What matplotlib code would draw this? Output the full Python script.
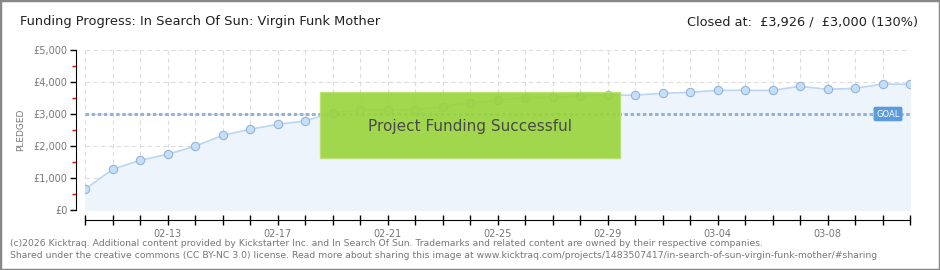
import matplotlib
matplotlib.use("Agg")
import matplotlib.pyplot as plt
from matplotlib.patches import Rectangle
import numpy as np

dates = ["02-10","02-11","02-12","02-13","02-14","02-15","02-16","02-17","02-18","02-19",
         "02-20","02-21","02-22","02-23","02-24","02-25","02-26","02-27","02-28","02-29",
         "03-01","03-02","03-03","03-04","03-05","03-06","03-07","03-08","03-09","03-10","03-11"]
pledged = [646, 1271, 1552, 1740, 1990, 2333, 2521, 2677, 2781, 3042,
           3125, 3125, 3125, 3229, 3344, 3437, 3510, 3531, 3562, 3590,
           3590, 3646, 3677, 3740, 3740, 3740, 3865, 3771, 3802, 3937, 3926]
goal = 3000
yticks = [0, 1000, 2000, 3000, 4000, 5000]
ytick_labels = ["£0", "£1,000", "£2,000", "£3,000", "£4,000", "£5,000"]
label_every = 4
label_start = 3

W, H = 940, 270
fig = plt.figure(figsize=(W/100, H/100), dpi=100)
fig.patch.set_facecolor("white")

ax = fig.add_axes([85/W, (H-210)/H, (910-85)/W, 160/H])
x = np.arange(len(pledged))
ax.set_xlim(0, len(pledged)-1)
ax.set_ylim(0, 5000)

ax.fill_between(x, pledged, 0, color="#eef4fc", zorder=1)
ax.plot(x, pledged, color="#b9d6f2", lw=1.2, zorder=3)
ax.plot(x, pledged, "o", ms=6, mfc="#c6def7", mec="#93b5d8", mew=0.8, zorder=4)
ax.plot(x, [goal]*len(x), ls=(0, (1.2, 0.9)), color="#8fb2d8", lw=2.1, zorder=2)

ax.grid(True, color="#dddddd", ls=(0, (4, 3)), lw=0.8)
ax.set_axisbelow(True)

for s in ["top", "right"]:
    ax.spines[s].set_visible(False)
ax.spines["left"].set_position(("outward", 6.5))
ax.spines["bottom"].set_position(("outward", 7.2))
ax.spines["left"].set_bounds(0, 5000)

ax.set_yticks(yticks)
ax.set_yticklabels(ytick_labels, fontsize=7, color="#777777")
ax.set_yticks([500, 1500, 2500, 3500, 4500], minor=True)
ax.tick_params(axis="y", which="major", length=4, width=1, color="black", pad=2)
ax.tick_params(axis="y", which="minor", length=3, width=1, color="red")

ax.set_xticks(x)
ax.set_xticklabels([d if (i - label_start) % label_every == 0 else "" for i, d in enumerate(dates)],
                   fontsize=7, color="#777777")
ax.tick_params(axis="x", direction="inout", length=7, width=1, color="black", pad=3)

fig.text(21/W, (H-130)/H, "PLEDGED", rotation=90, ha="center", va="center",
         fontsize=6.5, color="#777777")

# success box
box = Rectangle((320/W, (H-158)/H), 300/W, 66/H, transform=fig.transFigure,
                facecolor="#98d43a", edgecolor="#b9e070", lw=1, alpha=0.9, zorder=10)
fig.patches.append(box)
fig.text(470/W, (H-127)/H, "Project Funding Successful", ha="center", va="center",
         fontsize=11, color="#4a4a4a", zorder=11)

# goal tag
fig.text(888/W, (H-114)/H, "GOAL", ha="center", va="center", fontsize=6, color="white",
         bbox=dict(boxstyle="round,pad=0.25,rounding_size=0.15", fc="#5b9bdc", ec="#5b9bdc"))

fig.text(20/W, (H-22)/H, "Funding Progress: In Search Of Sun: Virgin Funk Mother",
         fontsize=9.4, color="#222222", ha="left", va="center")
fig.text(918/W, (H-22)/H, "Closed at:  £3,926 /  £3,000 (130%)",
         fontsize=9.3, color="#222222", ha="right", va="center")

fig.text(10/W, (H-243)/H,
         "(c)2026 Kicktraq. Additional content provided by Kickstarter Inc. and In Search Of Sun. Trademarks and related content are owned by their respective companies.",
         fontsize=6.7, color="#777777", ha="left", va="center")
fig.text(10/W, (H-256)/H,
         "Shared under the creative commons (CC BY-NC 3.0) license. Read more about sharing this image at www.kicktraq.com/projects/1483507417/in-search-of-sun-virgin-funk-mother/#sharing",
         fontsize=6.7, color="#777777", ha="left", va="center")

border = Rectangle((0, 0), 1, 1, transform=fig.transFigure, fill=False,
                   edgecolor="#888888", lw=2.5)
fig.patches.append(border)

fig.savefig("out.png", dpi=100)
